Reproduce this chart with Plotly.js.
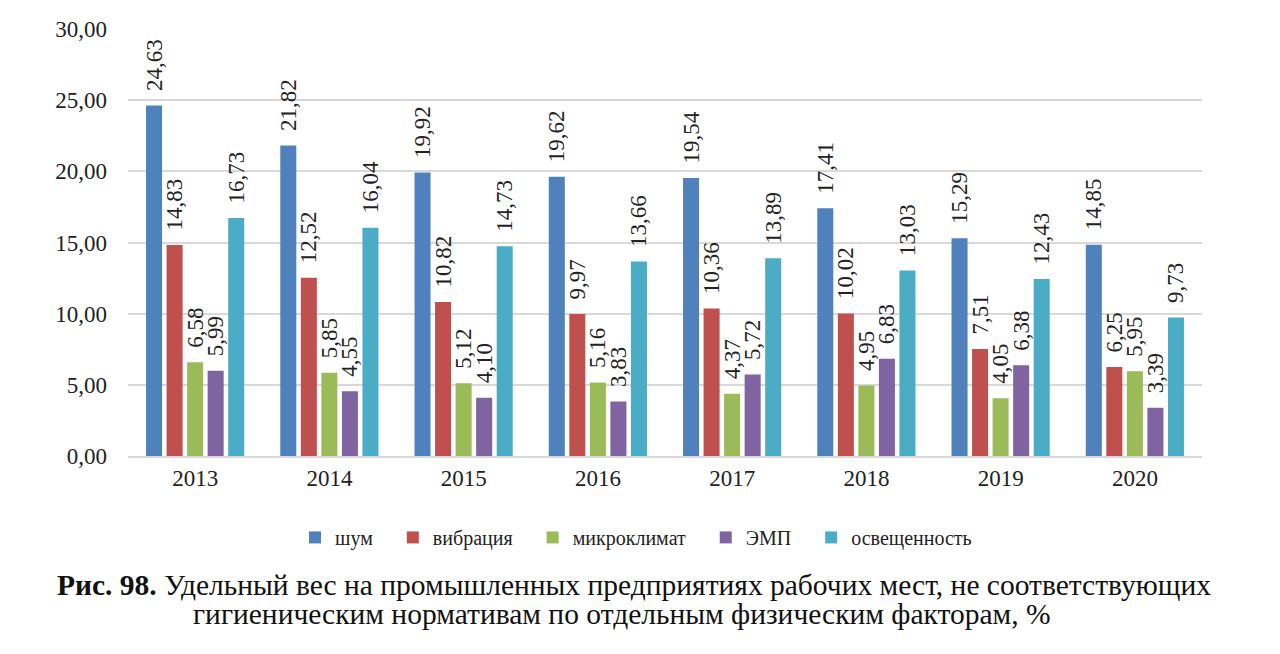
<!DOCTYPE html>
<html><head><meta charset="utf-8">
<script src="https://cdn.plot.ly/plotly-3.0.1.min.js"></script>
<style>html,body{margin:0;padding:0;background:#fff;}#chart{width:1280px;height:654px;}</style>
</head><body><div id="chart"></div>
<script>
const years = ['2013','2014','2015','2016','2017','2018','2019','2020'];
const seriesNames = ['шум','вибрация','микроклимат','ЭМП','освещенность'];
const noise = [24.63, 21.82, 19.92, 19.62, 19.54, 17.41, 15.29, 14.85];
const vibration = [14.83, 12.52, 10.82, 9.97, 10.36, 10.02, 7.51, 6.25];
const microclimate = [6.58, 5.85, 5.12, 5.16, 4.37, 4.95, 4.05, 5.95];
const emf = [5.99, 4.55, 4.10, 3.83, 5.72, 6.83, 6.38, 3.39];
const lighting = [16.73, 16.04, 14.73, 13.66, 13.89, 13.03, 12.43, 9.73];
const captionLine1 = '<b>Рис. 98.</b> Удельный вес на промышленных предприятиях рабочих мест, не соответствующих';
const captionLine2 = 'гигиеническим нормативам по отдельным физическим факторам, %';
const colors = ['#4F81BD','#C0504D','#9BBB59','#8064A2','#4BACC6'];
const values = [noise, vibration, microclimate, emf, lighting];
const font = "'Liberation Serif', serif";

const traces = values.map((v,i)=>({
  type:'bar', x:years, y:v, name:seriesNames[i] + '   ',
  marker:{color:colors[i]},
  texttemplate:'  %{y:.2f}', textposition:'outside', textangle:-90,
  constraintext:'none', cliponaxis:false,
  textfont:{family:font, size:23, color:'#222'},
  hoverinfo:'skip'
}));

const layout = {
  width:1280, height:654,
  margin:{l:128, r:78, t:29, b:198},
  paper_bgcolor:'#fff', plot_bgcolor:'#fff',
  separators:', ',
  barmode:'group', bargap:0.235, bargroupgap:0.22,
  font:{family:font, color:'#222'},
  xaxis:{tickfont:{family:font,size:23,color:'#222'}, showline:true, linecolor:'#D9D9D9', linewidth:2, ticks:'', showgrid:false},
  yaxis:{range:[0,30], dtick:5, tickformat:'.2f', tickfont:{family:font,size:23,color:'#222'},
    gridcolor:'#D9D9D9', gridwidth:2, zeroline:false, ticks:'', ticklen:0, ticklabelstandoff:20},
  legend:{orientation:'h', x:0.48, xanchor:'center', y:-0.145, yanchor:'top', font:{family:font,size:20,color:'#222'}, itemwidth:30, traceorder:'normal'},
  showlegend:true,
  annotations:[
    {xref:'paper', yref:'paper', x:0.4707, y:-0.302, xanchor:'center', yanchor:'middle', showarrow:false,
     text:captionLine1, font:{family:font, size:29.5, color:'#111'}},
    {xref:'paper', yref:'paper', x:0.46, y:-0.370, xanchor:'center', yanchor:'middle', showarrow:false,
     text:captionLine2, font:{family:font, size:29.5, color:'#111'}}
  ]
};
Plotly.newPlot('chart', traces, layout, {displayModeBar:false, staticPlot:true});
</script></body></html>
